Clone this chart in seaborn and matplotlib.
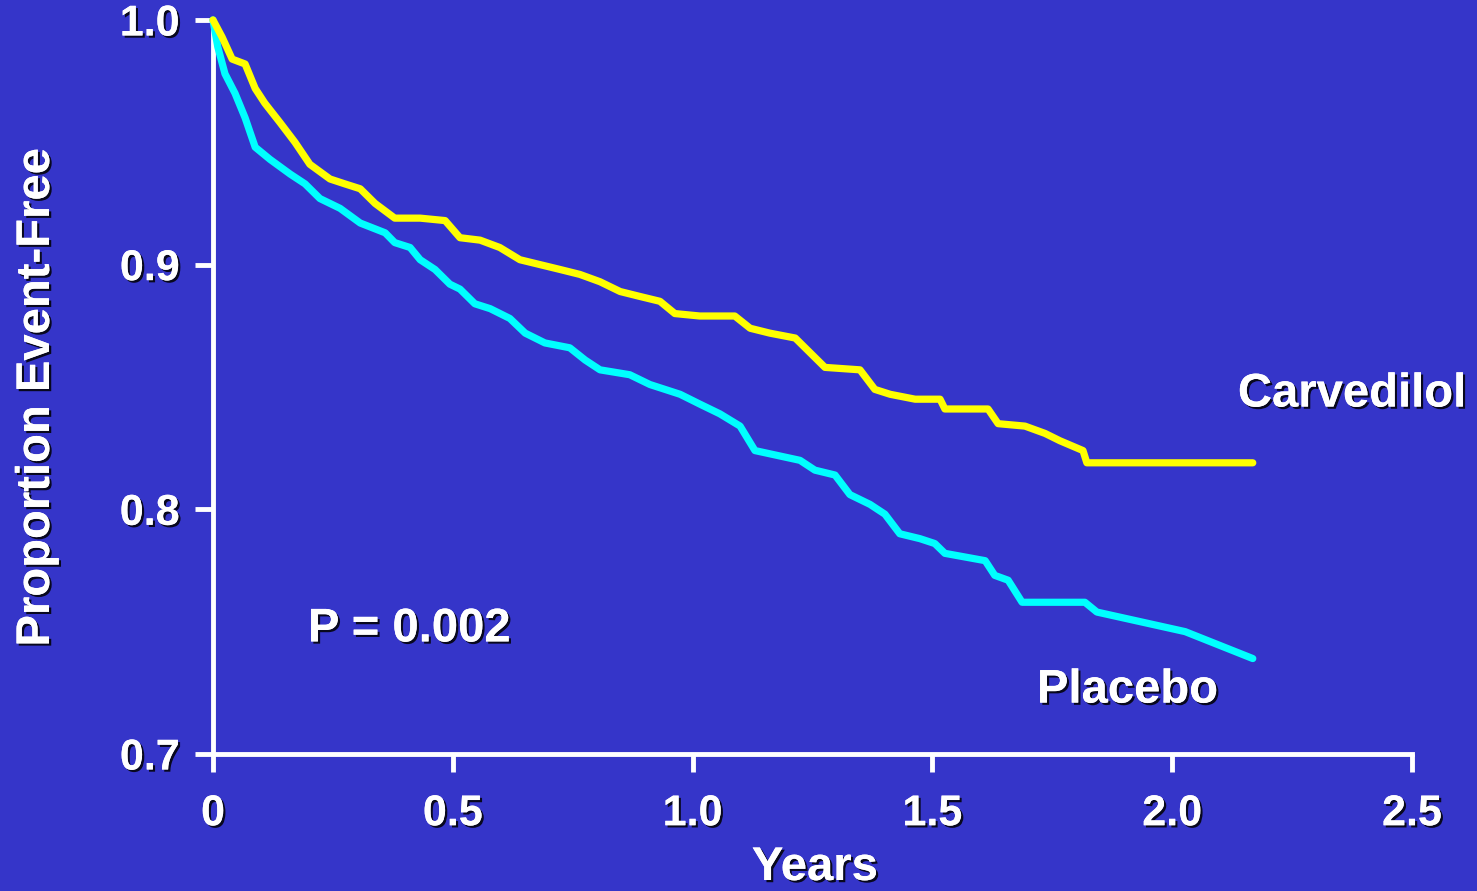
import matplotlib
matplotlib.use("Agg")
import matplotlib.pyplot as plt
import matplotlib.patheffects as pe
import seaborn as sns
import pandas as pd

# ---- data ----
carv_years = [0.000, 0.019, 0.040, 0.067, 0.088, 0.108, 0.140, 0.171, 0.202, 0.244,
              0.275, 0.307, 0.338, 0.379, 0.432, 0.484, 0.515, 0.557, 0.598, 0.640,
              0.682, 0.724, 0.765, 0.807, 0.849, 0.890, 0.932, 0.963, 1.015, 1.088,
              1.120, 1.161, 1.214, 1.245, 1.276, 1.349, 1.380, 1.412, 1.464, 1.516,
              1.526, 1.616, 1.637, 1.693, 1.735, 1.766, 1.814, 1.822, 2.168]
carv_surv = [1.000, 0.993, 0.984, 0.982, 0.972, 0.966, 0.958, 0.950, 0.941, 0.935,
             0.933, 0.931, 0.925, 0.919, 0.919, 0.918, 0.911, 0.910, 0.907, 0.902,
             0.900, 0.898, 0.896, 0.893, 0.889, 0.887, 0.885, 0.880, 0.879, 0.879,
             0.874, 0.872, 0.870, 0.864, 0.858, 0.857, 0.849, 0.847, 0.845, 0.845,
             0.841, 0.841, 0.835, 0.834, 0.831, 0.828, 0.824, 0.819, 0.819]

plac_years = [0.000, 0.010, 0.025, 0.046, 0.067, 0.088, 0.119, 0.161, 0.192, 0.223,
              0.265, 0.307, 0.359, 0.379, 0.411, 0.432, 0.463, 0.494, 0.515, 0.546,
              0.578, 0.619, 0.651, 0.692, 0.744, 0.776, 0.807, 0.869, 0.911, 0.974,
              1.015, 1.057, 1.099, 1.130, 1.224, 1.255, 1.297, 1.328, 1.370, 1.401,
              1.432, 1.474, 1.505, 1.526, 1.610, 1.630, 1.658, 1.687, 1.818, 1.843,
              2.027, 2.168]
plac_surv = [1.000, 0.989, 0.978, 0.970, 0.960, 0.948, 0.943, 0.937, 0.933, 0.927,
             0.923, 0.917, 0.913, 0.909, 0.907, 0.902, 0.898, 0.892, 0.890, 0.884,
             0.882, 0.878, 0.872, 0.868, 0.866, 0.861, 0.857, 0.855, 0.851, 0.847,
             0.843, 0.839, 0.834, 0.824, 0.820, 0.816, 0.814, 0.806, 0.802, 0.798,
             0.790, 0.788, 0.786, 0.782, 0.779, 0.773, 0.771, 0.762, 0.762, 0.758,
             0.750, 0.739]

x_ticks = [0, 0.5, 1.0, 1.5, 2.0, 2.5]
x_tick_labels = ["0", "0.5", "1.0", "1.5", "2.0", "2.5"]
y_ticks = [0.7, 0.8, 0.9, 1.0]
y_tick_labels = ["0.7", "0.8", "0.9", "1.0"]

series_labels = ["Carvedilol", "Placebo"]
p_text = "P = 0.002"
x_title = "Years"
y_title = "Proportion Event-Free"

# ---- style ----
BG = "#3535C9"
sns.set_style("white")
plt.rcParams["font.family"] = ["Liberation Sans", "DejaVu Sans"]
plt.rcParams["font.weight"] = "bold"

shadow = [pe.withSimplePatchShadow(offset=(1.6, -1.6), shadow_rgbFace="black", alpha=0.85),
          pe.Normal()]

fig = plt.figure(figsize=(14.77, 8.91), dpi=100, facecolor=BG)
ax = fig.add_axes([0.1442, 0.1538, 0.8118, 0.8238])
ax.set_facecolor(BG)

df_c = pd.DataFrame({"Years": carv_years, "Surv": carv_surv})
df_p = pd.DataFrame({"Years": plac_years, "Surv": plac_surv})

sns.lineplot(data=df_c, x="Years", y="Surv", ax=ax, color="#FFFF00", lw=5.2,
             estimator=None, sort=False, clip_on=False, zorder=3)
sns.lineplot(data=df_p, x="Years", y="Surv", ax=ax, color="#00FFFF", lw=5.2,
             estimator=None, sort=False, clip_on=False, zorder=2)

ax.set_xlim(0, 2.5)
ax.set_ylim(0.7, 1.0)

for s in ["top", "right"]:
    ax.spines[s].set_visible(False)
for s in ["left", "bottom"]:
    ax.spines[s].set_color("white")
    ax.spines[s].set_linewidth(3.5)
    ax.spines[s].set_capstyle("projecting")
    ax.spines[s].set_zorder(1)

ax.set_xticks(x_ticks)
ax.set_xticklabels(x_tick_labels)
ax.set_yticks(y_ticks)
ax.set_yticklabels(y_tick_labels)
ax.tick_params(axis="x", which="major", bottom=True, direction="out", length=13, width=3.5,
               color="white", labelsize=31, labelcolor="white", pad=16)
ax.tick_params(axis="y", which="major", left=True, direction="out", length=13, width=3.5,
               color="white", labelsize=31, labelcolor="white", pad=11)
for lab in ax.get_xticklabels() + ax.get_yticklabels():
    lab.set_fontweight("bold")
    lab.set_path_effects(shadow)

ax.set_xlabel("")
ax.set_ylabel("")
fig.text(815 / 1477, 1 - 868 / 891, x_title, color="white", fontsize=34, fontweight="bold",
         ha="center", va="center", path_effects=shadow)
fig.text(37 / 1477, 1 - 397 / 891, y_title, color="white", fontsize=34, fontweight="bold",
         ha="center", va="center", rotation=90, path_effects=shadow)

ax.text(2.137, 0.842, series_labels[0], color="white", fontsize=34, fontweight="bold",
        ha="left", va="baseline", path_effects=shadow)
ax.text(1.718, 0.721, series_labels[1], color="white", fontsize=34, fontweight="bold",
        ha="left", va="baseline", path_effects=shadow)
ax.text(0.198, 0.746, p_text, color="white", fontsize=34, fontweight="bold",
        ha="left", va="baseline", path_effects=shadow)

fig.savefig("out.png", dpi=100, facecolor=BG)
